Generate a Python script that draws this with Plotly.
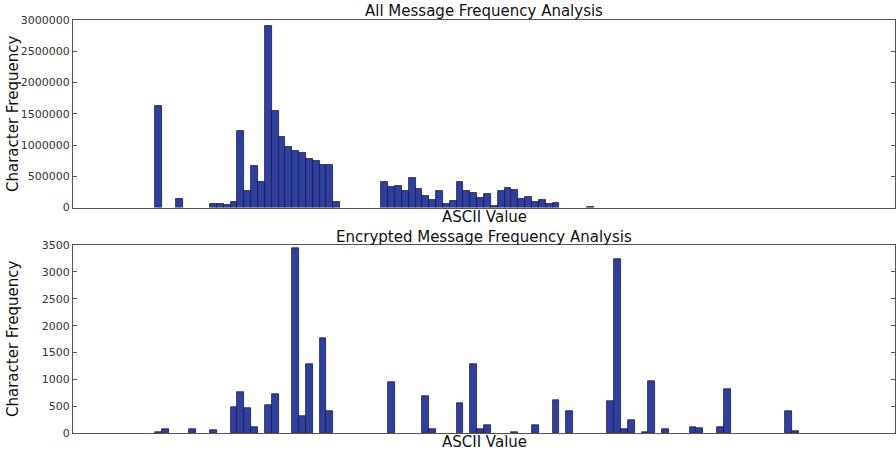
import plotly.graph_objects as go

# ASCII codes and counts, top chart (all messages)
all_codes = [32, 35] + list(range(40, 59)) + list(range(65, 91)) + [95]
all_counts = [1620000, 133000,
              53000, 50000, 40000, 90000, 1230000, 260000, 660000, 405000,
              2905000, 1540000, 1130000, 966000, 900000, 865000, 770000, 737000,
              683000, 683000, 85000,
              410000, 325000, 352000, 260000, 480000, 300000, 186000, 128000,
              270000, 58000, 100000, 410000, 270000, 234000, 149000, 224000,
              32000, 260000, 320000, 282000, 138000, 176000, 85000, 128000,
              58000, 74000,
              15000]

# Encrypted message
enc_codes = [32, 33, 37, 40, 43, 44, 45, 46, 48, 49, 52, 53, 54, 56, 57,
             66, 71, 72, 76, 78, 79, 80, 84, 87, 90, 92, 98, 99, 100, 101,
             103, 104, 106, 110, 111, 114, 115, 124, 125]
enc_counts = [15, 75, 75, 50, 479, 765, 460, 112, 522, 716, 3444, 311, 1281, 1760, 410,
              945, 684, 75, 560, 1281, 63, 150, 10, 150, 604, 410, 585, 3239, 75, 231,
              10, 964, 63, 106, 81, 118, 821, 404, 25]

titles = ["All Message Frequency Analysis", "Encrypted Message Frequency Analysis"]
x_label = "ASCII Value"
y_label = "Character Frequency"

FILL = "#2E3F9F"
EDGE = "#1a1a40"
AXC = "#555555"
FONT = "DejaVu Sans"

fig = go.Figure()
fig.add_trace(go.Bar(x=all_codes, y=all_counts, width=1, offset=0,
                     marker=dict(color=FILL, line=dict(color=EDGE, width=0.8)),
                     xaxis="x", yaxis="y"))
fig.add_trace(go.Bar(x=enc_codes, y=enc_counts, width=1, offset=0,
                     marker=dict(color=FILL, line=dict(color=EDGE, width=0.8)),
                     xaxis="x2", yaxis="y2"))

top_dom = [0.546, 1.0]
bot_dom = [0.0, 0.4548]

xcommon = dict(range=[20, 140], showticklabels=False, ticks="", showline=True,
               linecolor=AXC, linewidth=1, mirror=True, showgrid=False, zeroline=False)
ycommon = dict(showline=True, linecolor=AXC, linewidth=1, mirror="allticks",
               ticks="inside", ticklen=4, tickcolor=AXC, showgrid=False, zeroline=False,
               tickformat="d", tickfont=dict(family=FONT, size=11, color="#333333"))

fig.update_layout(
    width=896, height=451,
    margin=dict(l=73, r=1, t=20, b=18),
    paper_bgcolor="white", plot_bgcolor="white",
    showlegend=False, bargap=0,
    font=dict(family=FONT, color="#111111"),
    xaxis=dict(domain=[0, 1], anchor="y", **xcommon),
    yaxis=dict(domain=top_dom, anchor="x", range=[0, 3000000], dtick=500000, **ycommon),
    xaxis2=dict(domain=[0, 1], anchor="y2", **xcommon),
    yaxis2=dict(domain=bot_dom, anchor="x2", range=[0, 3500], dtick=500, **ycommon),
)

ann_list = [
    (titles[0], 484, 11, 0),
    (x_label, 484, 217, 0),
    (titles[1], 484, 237, 0),
    (x_label, 484, 442, 0),
    (y_label, 13, 114, -90),
    (y_label, 13, 339, -90),
]
ann = []
H = 451
plot_h = 451 - 20 - 18
for text, px, py, ang in ann_list:
    ann.append(dict(text=text, x=(px - 73) / 822, xref="paper",
                    y=(H - 18 - py) / plot_h, yref="paper",
                    xanchor="center", yanchor="middle", showarrow=False, textangle=ang,
                    font=dict(family=FONT, size=15, color="#111111")))
fig.update_layout(annotations=ann)

fig.write_html("out.html", config={"displayModeBar": False},
               post_script="document.body.style.margin='0px';document.body.style.overflow='hidden';")
